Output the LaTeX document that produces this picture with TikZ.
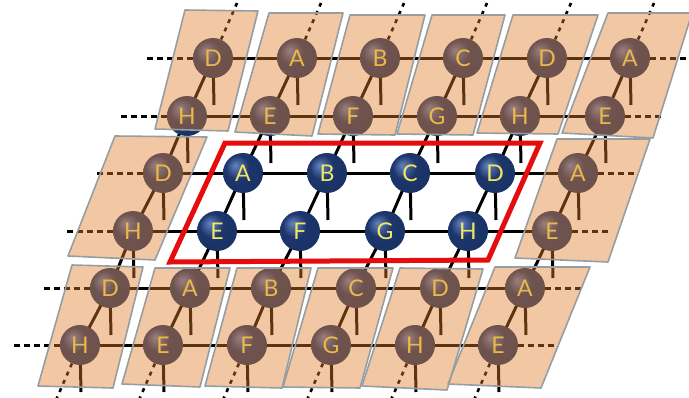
\documentclass[tikz,border=0pt]{standalone}
\usepackage{fontspec}
\setsansfont{Lato}
\usetikzlibrary{calc}
\definecolor{bhi}{RGB}{100,130,190}
\definecolor{bmid}{RGB}{28,54,108}
\definecolor{bdark}{RGB}{18,36,80}
\definecolor{peach}{RGB}{226,124,40}
\definecolor{letter}{RGB}{240,230,100}
\definecolor{frame}{RGB}{150,158,162}
\definecolor{redbox}{RGB}{228,12,12}
\pgfdeclareradialshading{nball}{\pgfpoint{-10bp}{10bp}}{color(0bp)=(bhi); color(15bp)=(bmid); color(36bp)=(bmid!90!black); color(50bp)=(bdark)}
\pgfdeclarelayer{bg}
\pgfdeclarelayer{fg}
\pgfsetlayers{bg,main,fg}
\begin{document}
\begin{tikzpicture}[x=1pt,y=-1pt,
  site/.style={circle, minimum size=40pt, inner sep=0pt, shade, shading=nball, text=letter, font=\sffamily\fontsize{23}{23}\selectfont},
  bond/.style={line width=3pt, draw=black},
  leg/.style={line width=3pt, draw=black},
  openh/.style={line width=3pt, draw=black, dash pattern=on 6pt off 4pt},
  openv/.style={line width=2.6pt, draw=black, dash pattern=on 4pt off 5pt},
  panel/.style={fill=peach, fill opacity=0.42, draw=frame, draw opacity=1, line width=1.6pt, line join=round},
  region/.style={draw=redbox, line width=5pt, line join=miter}]
\useasboundingbox (0,0) rectangle (689,397);
\clip (0,0) rectangle (689,397);
% sites
\foreach \c/\x/\l in {0/213/D,1/297/A,2/380/B,3/463/C,4/547/D,5/630/A} \node[site] (n0\c) at (\x,58) {\l};
\foreach \c/\x/\l in {0/187/H,1/270/E,2/353/F,3/437/G,4/520/H,5/605/E} \node[site] (n1\c) at (\x,116) {\l};
\foreach \c/\x/\l in {0/163/D,1/243/A,2/327/B,3/410/C,4/495/D,5/578/A} \node[site] (n2\c) at (\x,173) {\l};
\foreach \c/\x/\l in {0/133/H,1/217/E,2/300/F,3/385/G,4/468/H,5/552/E} \node[site] (n3\c) at (\x,231) {\l};
\foreach \c/\x/\l in {0/110/D,1/190/A,2/271/B,3/356/C,4/440/D,5/525/A} \node[site] (n4\c) at (\x,288) {\l};
\foreach \c/\x/\l in {0/80/H,1/163/E,2/247/F,3/331/G,4/415/H,5/498/E} \node[site] (n5\c) at (\x,345) {\l};
% free ends
\foreach \r in {0,...,5} {
  \foreach \c in {0,...,5} \coordinate (s\r\c) at ($(n\r\c.center)+(1,47)$);
  \coordinate (L\r) at ($(n\r0.center)+(-68,0)$);
  \coordinate (R\r) at ($(n\r5.center)+(60,0)$);
}
\foreach \c in {0,...,5} {
  \coordinate (T\c) at ($(n0\c.center)+(24,-55)$);
  \coordinate (B\c) at ($(n5\c.center)+(-24,55)$);
}
\begin{pgfonlayer}{bg}
\fill[white] (0,0) rectangle (689,397);
\foreach \r in {0,...,5} {
  \foreach \c [evaluate=\c as \d using int(\c+1)] in {0,...,4} \draw[bond] (n\r\c.center) -- (n\r\d.center);
  \foreach \c in {0,...,5} \draw[leg] (n\r\c.center) -- (s\r\c);
  \draw[openh] (n\r0) -- (L\r);
  \draw[openh] (n\r5) -- (R\r);
}
\foreach \r [evaluate=\r as \d using int(\r+1)] in {0,...,4}
  \foreach \c in {0,...,5} \draw[bond] (n\r\c.center) -- (n\d\c.center);
\foreach \c in {0,...,5} {
  \draw[openv] (n0\c) -- (T\c);
  \draw[openv] (n5\c) -- (B\c);
}
\end{pgfonlayer}
\begin{pgfonlayer}{fg}
% top panels
\draw[panel] (185,10) -- (258,11) -- (228,131) -- (155,129) -- cycle;
\draw[panel] (269,13) -- (343,13) -- (312,136) -- (235,132) -- cycle;
\draw[panel] (350,15) -- (425,15) -- (395,135) -- (318,134) -- cycle;
\draw[panel] (432,15) -- (505,15) -- (473,135) -- (397,134) -- cycle;
\draw[panel] (513,15) -- (598,15) -- (558,134) -- (477,133) -- cycle;
\draw[panel] (608,13) -- (692,13) -- (653,138) -- (562,133) -- cycle;
% middle panels
\draw[panel] (115,136) -- (207,137) -- (155,260) -- (68,256) -- cycle;
\draw[panel] (557,139) -- (650,139) -- (608,262) -- (515,258) -- cycle;
% bottom panels
\draw[panel] (72,265) -- (143,267) -- (113,388) -- (38,386) -- cycle;
\draw[panel] (155,268) -- (230,268) -- (200,387) -- (122,384) -- cycle;
\draw[panel] (237,268) -- (311,268) -- (282,388) -- (205,386) -- cycle;
\draw[panel] (318,268) -- (393,268) -- (360,388) -- (283,387) -- cycle;
\draw[panel] (400,268) -- (483,269) -- (447,390) -- (362,386) -- cycle;
\draw[panel] (495,267) -- (590,267) -- (541,388) -- (448,384) -- cycle;
% region
\draw[region] (225,143) -- (540,143) -- (488,260) -- (170,262) -- cycle;
\end{pgfonlayer}
\end{tikzpicture}
\end{document}
